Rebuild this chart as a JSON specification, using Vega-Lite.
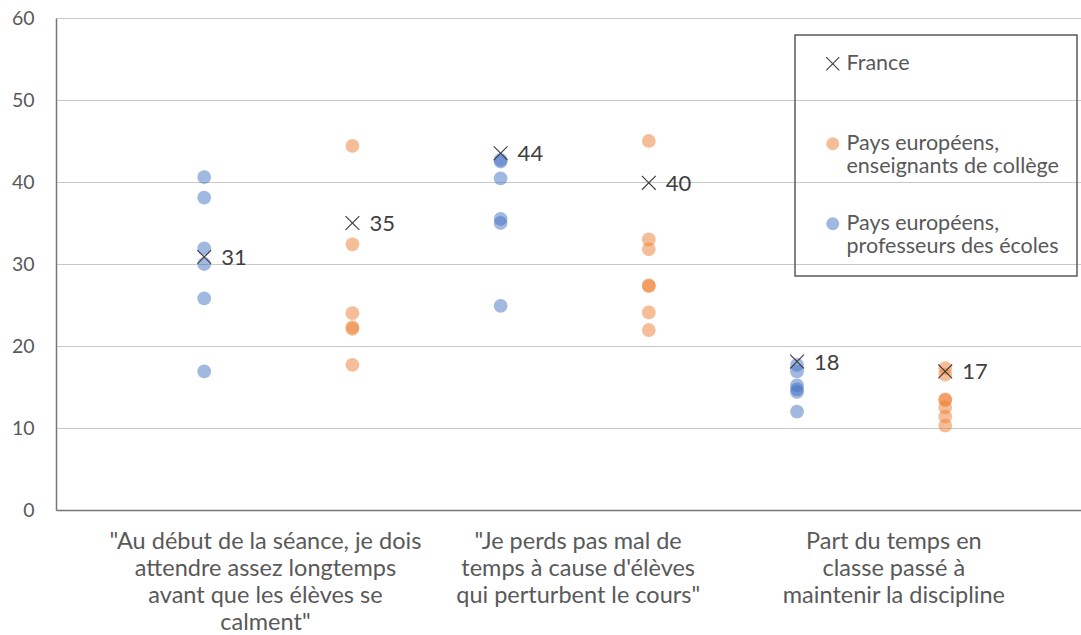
{
  "$schema": "https://vega.github.io/schema/vega-lite/v6.json",
  "width": 1025,
  "height": 492,
  "autosize": {"type": "none"},
  "padding": {"left": 56, "top": 18, "right": 0, "bottom": 125},
  "background": "white",
  "config": {
    "view": {"stroke": null},
    "font": "Lato",
    "legend": {"strokeWidth": 1.5}
  },
  "data": {
    "values": [
      {"pos": 1, "series": "Pays européens, professeurs des écoles", "v": 40.6},
      {"pos": 1, "series": "Pays européens, professeurs des écoles", "v": 38.1},
      {"pos": 1, "series": "Pays européens, professeurs des écoles", "v": 31.9},
      {"pos": 1, "series": "Pays européens, professeurs des écoles", "v": 30.0},
      {"pos": 1, "series": "Pays européens, professeurs des écoles", "v": 25.8},
      {"pos": 1, "series": "Pays européens, professeurs des écoles", "v": 16.9},
      {"pos": 2, "series": "Pays européens, enseignants de collège", "v": 44.4},
      {"pos": 2, "series": "Pays européens, enseignants de collège", "v": 32.4},
      {"pos": 2, "series": "Pays européens, enseignants de collège", "v": 24.0},
      {"pos": 2, "series": "Pays européens, enseignants de collège", "v": 22.3},
      {"pos": 2, "series": "Pays européens, enseignants de collège", "v": 22.1},
      {"pos": 2, "series": "Pays européens, enseignants de collège", "v": 17.7},
      {"pos": 3, "series": "Pays européens, professeurs des écoles", "v": 42.7},
      {"pos": 3, "series": "Pays européens, professeurs des écoles", "v": 42.5},
      {"pos": 3, "series": "Pays européens, professeurs des écoles", "v": 40.45},
      {"pos": 3, "series": "Pays européens, professeurs des écoles", "v": 35.5},
      {"pos": 3, "series": "Pays européens, professeurs des écoles", "v": 35.0},
      {"pos": 3, "series": "Pays européens, professeurs des écoles", "v": 24.9},
      {"pos": 4, "series": "Pays européens, enseignants de collège", "v": 45.0},
      {"pos": 4, "series": "Pays européens, enseignants de collège", "v": 33.0},
      {"pos": 4, "series": "Pays européens, enseignants de collège", "v": 31.8},
      {"pos": 4, "series": "Pays européens, enseignants de collège", "v": 27.4},
      {"pos": 4, "series": "Pays européens, enseignants de collège", "v": 27.3},
      {"pos": 4, "series": "Pays européens, enseignants de collège", "v": 24.1},
      {"pos": 4, "series": "Pays européens, enseignants de collège", "v": 21.95},
      {"pos": 5, "series": "Pays européens, professeurs des écoles", "v": 17.7},
      {"pos": 5, "series": "Pays européens, professeurs des écoles", "v": 16.9},
      {"pos": 5, "series": "Pays européens, professeurs des écoles", "v": 15.2},
      {"pos": 5, "series": "Pays européens, professeurs des écoles", "v": 14.7},
      {"pos": 5, "series": "Pays européens, professeurs des écoles", "v": 14.4},
      {"pos": 5, "series": "Pays européens, professeurs des écoles", "v": 12.0},
      {"pos": 6, "series": "Pays européens, enseignants de collège", "v": 17.3},
      {"pos": 6, "series": "Pays européens, enseignants de collège", "v": 16.5},
      {"pos": 6, "series": "Pays européens, enseignants de collège", "v": 13.5},
      {"pos": 6, "series": "Pays européens, enseignants de collège", "v": 13.4},
      {"pos": 6, "series": "Pays européens, enseignants de collège", "v": 12.5},
      {"pos": 6, "series": "Pays européens, enseignants de collège", "v": 11.4},
      {"pos": 6, "series": "Pays européens, enseignants de collège", "v": 10.3},
      {"pos": 1, "series": "France", "v": 30.85, "label": "31"},
      {"pos": 2, "series": "France", "v": 35.0, "label": "35"},
      {"pos": 3, "series": "France", "v": 43.5, "label": "44"},
      {"pos": 4, "series": "France", "v": 39.9, "label": "40"},
      {"pos": 5, "series": "France", "v": 18.1, "label": "18"},
      {"pos": 6, "series": "France", "v": 16.9, "label": "17"}
    ]
  },
  "layer": [
    {
      "mark": {"type": "point", "filled": true, "size": 190, "opacity": 1},
      "encoding": {
        "x": {
          "field": "pos",
          "type": "quantitative",
          "scale": {"domain": [0, 6.916], "nice": false, "zero": false},
          "axis": {
            "values": [1.41, 3.52, 5.65],
            "labelExpr": "datum.value < 2 ? ['\"Au début de la séance, je dois', 'attendre assez longtemps', 'avant que les élèves se', 'calment\"'] : datum.value < 4 ? ['\"Je perds pas mal de', \"temps à cause d'élèves\", 'qui perturbent le cours\"'] : ['Part du temps en', 'classe passé à', 'maintenir la discipline']",
            "title": null,
            "ticks": false,
            "grid": false,
            "domainColor": "#767676",
            "domainWidth": 1.5,
            "labelFont": "Lato",
            "labelFontSize": 23.5,
            "labelColor": "#595959",
            "labelLineHeight": 27,
            "labelPadding": 19,
            "labelBaseline": "top",
            "labelAlign": "center",
            "labelOverlap": false,
            "labelBound": false,
            "labelFlush": false,
            "labelLimit": 0
          }
        },
        "y": {
          "field": "v",
          "type": "quantitative",
          "scale": {"domain": [0, 60], "nice": false},
          "axis": {
            "values": [0, 10, 20, 30, 40, 50, 60],
            "title": null,
            "ticks": false,
            "grid": true,
            "gridColor": "#C8C8C8",
            "gridWidth": 1.2,
            "domainColor": "#767676",
            "domainWidth": 1.5,
            "labelFont": "Lato",
            "labelFontSize": 19.5,
            "labelColor": "#595959",
            "labelPadding": 22
          }
        },
        "color": {
          "field": "series",
          "type": "nominal",
          "scale": {
            "domain": ["France", "Pays européens, enseignants de collège", "Pays européens, professeurs des écoles"],
            "range": ["#404040", "rgba(237,125,49,0.5)", "rgba(68,114,196,0.5)"]
          },
          "legend": {
            "orient": "none",
            "legendX": 739,
            "legendY": 17,
            "title": null,
            "labelExpr": "datum.label == 'France' ? ['France', ' '] : [slice(datum.label, 0, 15), slice(datum.label, 16)]",
            "labelFont": "Lato",
            "labelFontSize": 21.5,
            "labelColor": "#595959",
            "labelLimit": 400,
            "symbolSize": 170,
            "rowPadding": 34,
            "padding": 18,
            "strokeColor": "#595959",
            "symbolOffset": 9,
            "labelOffset": 3,
            "encode": {"labels": {"update": {"dy": {"value": 13}}}}
          }
        },
        "shape": {
          "field": "series",
          "type": "nominal",
          "scale": {
            "domain": ["France", "Pays européens, enseignants de collège", "Pays européens, professeurs des écoles"],
            "range": ["M-0.94,-1.06L1.06,0.94L0.94,1.06L-1.06,-0.94ZM0.94,-1.06L1.06,-0.94L-0.94,1.06L-1.06,0.94Z", "circle", "circle"]
          },
          "legend": {
            "orient": "none",
            "legendX": 739,
            "legendY": 17,
            "title": null,
            "labelExpr": "datum.label == 'France' ? ['France', ' '] : [slice(datum.label, 0, 15), slice(datum.label, 16)]",
            "labelFont": "Lato",
            "labelFontSize": 21.5,
            "labelColor": "#595959",
            "labelLimit": 400,
            "symbolSize": 170,
            "rowPadding": 34,
            "padding": 18,
            "strokeColor": "#595959",
            "symbolOffset": 9,
            "labelOffset": 3,
            "encode": {"labels": {"update": {"dy": {"value": 13}}}}
          }
        }
      }
    },
    {
      "transform": [{"filter": "datum.series == 'France'"}],
      "mark": {"type": "text", "align": "left", "baseline": "middle", "dx": 17, "dy": 1, "fontSize": 22, "font": "Lato", "color": "#404040"},
      "encoding": {
        "x": {"field": "pos", "type": "quantitative"},
        "y": {"field": "v", "type": "quantitative"},
        "text": {"field": "label"}
      }
    }
  ]
}
